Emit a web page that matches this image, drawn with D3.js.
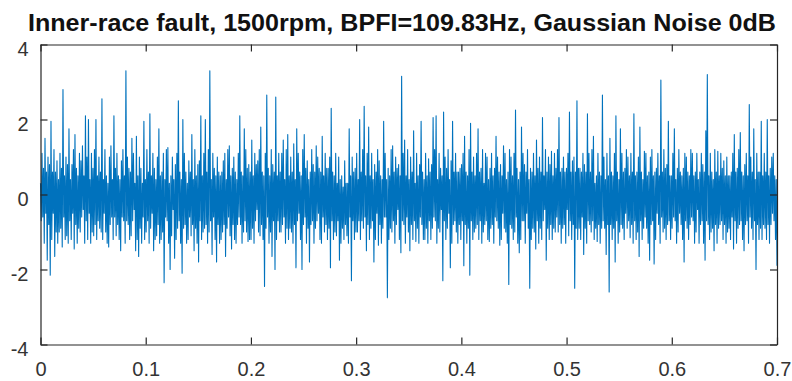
<!DOCTYPE html>
<html>
<head>
<meta charset="utf-8">
<script src="https://cdn.jsdelivr.net/npm/d3@7"></script>
<style>
  html, body { margin: 0; padding: 0; background: #ffffff; }
  svg { display: block; }
</style>
</head>
<body>
<div id="chart"></div>
<script>
// ---- Data ----
const titleText = "Inner-race fault, 1500rpm, BPFI=109.83Hz, Gaussian Noise 0dB";
const xTickValues = [0, 0.1, 0.2, 0.3, 0.4, 0.5, 0.6, 0.7];
const xTickLabels = ["0", "0.1", "0.2", "0.3", "0.4", "0.5", "0.6", "0.7"];
const yTickValues = [-4, -2, 0, 2, 4];
const yTickLabels = ["-4", "-2", "0", "2", "4"];
const timeStart = 0;
const timeEnd = 0.7;
// signal amplitude samples, evenly spaced from timeStart to timeEnd
const signal = [
  0.3,-0.7,1.1,-0.6,0.7,-1.3,1.5,-0.5,0.6,-1.75,1.0,-0.8,0.8,-2.15,1.95,-1.2,0.6,-0.5,1.2,-1.65,0.6,-1.0,0.9,-1.3,0.4,-1.0,1.1,-0.9,0.7,-1.4,2.8,-0.6,0.5,-1.2,1.0,-1.1,0.8,-1.3,1.75,-0.7,
  0.4,-1.2,0.8,-0.5,1.2,-1.45,1.6,-0.8,0.7,-1.3,0.5,-0.9,1.1,-1.0,0.9,-0.6,1.3,-0.4,0.5,-1.3,2.1,-0.7,1.0,-1.2,2.0,-0.5,0.4,-1.3,1.1,-1.0,0.7,-1.1,1.2,-0.8,2.0,-1.2,0.5,-0.7,1.0,-0.9,
  0.6,-1.0,2.55,-1.2,0.4,-0.5,1.2,-1.0,0.5,-1.3,0.3,-1.4,1.0,-0.8,1.3,-0.6,0.4,-1.2,2.1,-0.6,0.7,-1.1,1.1,-0.8,0.5,-1.2,0.4,-1.5,0.9,-0.6,1.2,-0.7,0.5,-1.3,3.3,-0.7,1.0,-0.8,0.7,-1.2,
  0.6,-1.1,1.5,-0.7,1.1,-0.4,0.3,-1.5,1.55,-1.2,0.5,-1.65,1.0,-0.9,0.7,-1.3,0.3,-0.6,1.95,-1.2,0.4,-1.0,1.2,-0.7,0.6,-1.3,2.15,-0.9,0.5,-0.5,1.1,-1.5,0.7,-1.2,0.4,-1.1,1.0,-0.8,1.75,-1.3,
  0.5,-1.2,0.6,-1.0,1.1,-2.35,0.4,-0.6,1.2,-0.7,1.25,-1.3,0.3,-2.0,0.5,-1.1,1.0,-0.4,0.4,-1.7,0.8,-1.2,1.1,-0.9,2.5,-0.7,0.6,-1.3,0.4,-2.1,2.0,-0.9,1.1,-0.8,0.6,-1.3,0.3,-1.2,0.9,-0.6,
  0.6,-1.1,1.6,-0.8,0.4,-1.5,1.2,-0.9,0.5,-1.3,0.8,-1.8,0.9,-0.7,2.1,-1.2,0.5,-1.0,1.1,-0.9,2.0,-0.8,0.6,-1.3,1.2,-1.0,3.3,-0.7,0.4,-1.6,1.1,-0.6,0.7,-1.2,0.5,-1.8,1.0,-0.8,0.6,-1.3,
  0.5,-1.2,0.6,-1.0,0.9,-0.8,1.1,-1.65,0.4,-0.9,1.2,-0.6,1.3,-1.1,0.5,-1.45,0.7,-0.8,1.0,-1.2,0.6,-1.3,0.4,-0.8,1.1,-0.6,2.1,-0.8,0.6,-1.3,0.5,-1.0,1.75,-0.7,1.2,-1.0,0.7,-1.25,0.8,-1.2,
  0.6,-1.2,1.45,-0.9,0.5,-1.3,1.1,-0.7,0.8,-0.4,0.9,-1.0,1.2,-1.1,1.8,-0.8,0.6,-1.2,0.5,-2.45,1.1,-0.9,2.65,-0.6,0.7,-1.3,0.5,-1.0,1.2,-1.65,0.8,-0.7,0.6,-2.0,2.6,-1.2,0.5,-0.7,1.1,-1.0,
  0.6,-1.0,1.1,-0.8,1.45,-0.6,0.4,-1.3,1.2,-0.9,1.6,-1.2,0.5,-0.9,1.0,-1.0,0.6,-1.3,1.35,-0.8,0.4,-1.95,1.75,-0.7,1.1,-0.5,0.6,-1.2,0.5,-2.0,1.2,-0.8,1.6,-0.6,0.7,-1.3,0.9,-0.9,0.4,-1.8,
  0.6,-0.8,1.2,-0.7,0.8,-1.3,0.6,-0.9,1.3,-0.7,1.0,-0.5,0.7,-1.2,0.6,-1.3,1.55,-0.6,0.5,-1.0,1.1,-0.8,0.7,-1.2,0.7,-0.9,1.0,-1.95,2.3,-0.7,0.6,-1.2,0.5,-1.0,1.1,-1.1,0.3,-0.7,1.0,-1.75,
  0.4,-1.3,0.5,-0.9,0.2,-1.2,0.9,-0.8,0.3,-1.1,0.3,-1.3,1.75,-0.6,0.5,-2.3,1.0,-0.7,0.6,-1.2,0.7,-1.0,1.1,-1.0,0.4,-0.7,2.0,-1.2,0.6,-0.7,1.2,-0.9,2.35,-0.6,0.5,-1.5,1.1,-0.8,1.8,-1.2,
  0.5,-0.9,1.1,-0.7,0.4,-1.8,0.8,-1.2,0.6,-0.5,1.2,-1.35,0.9,-0.8,0.5,-1.3,0.4,-0.9,1.95,-0.6,1.1,-0.6,0.4,-2.75,0.7,-1.2,0.5,-0.9,1.2,-1.0,1.3,-0.7,0.6,-1.3,1.0,-0.8,0.7,-0.4,0.8,-1.2,
  0.5,-1.55,3.15,-0.7,1.1,-0.8,1.45,-1.3,0.5,-0.6,1.2,-1.0,0.4,-1.5,1.0,-0.8,0.6,-1.2,1.7,-0.7,0.3,-1.25,1.1,-0.9,0.5,-1.3,0.8,-0.6,1.95,-0.8,0.6,-1.2,0.4,-1.2,1.1,-0.9,0.5,-1.3,0.95,-0.7,
  0.6,-1.2,0.8,-0.9,2.05,-0.6,1.2,-0.7,2.1,-1.3,0.4,-0.9,1.1,-1.0,0.7,-0.4,0.5,-2.3,2.2,-0.7,1.0,-1.2,0.7,-0.9,1.2,-0.5,0.4,-1.95,0.9,-1.3,1.95,-0.8,0.6,-0.7,1.1,-1.0,0.6,-1.3,0.6,-0.8,
  0.7,-1.2,0.8,-0.7,1.1,-1.9,1.55,-0.8,0.6,-1.3,0.5,-0.9,1.2,-2.15,1.9,-0.7,0.6,-1.2,1.0,-1.0,0.5,-0.9,1.1,-0.8,1.75,-1.2,0.6,-0.7,0.7,-1.3,1.2,-1.0,0.3,-0.8,1.1,-0.7,1.0,-1.2,0.4,-1.25,
  0.7,-0.9,1.1,-0.8,0.5,-1.3,0.7,-0.6,1.55,-0.7,1.0,-0.9,0.6,-1.35,0.8,-1.2,0.5,-0.5,1.3,-0.9,1.1,-1.0,0.4,-1.3,0.6,-2.4,1.2,-0.8,1.0,-0.9,0.5,-1.2,1.1,-1.0,2.25,-0.6,0.7,-1.3,0.4,-1.55,
  0.6,-1.2,1.8,-0.7,1.1,-0.7,0.8,-1.3,0.6,-0.5,1.2,-0.9,0.4,-2.5,0.7,-1.2,0.6,-0.9,1.1,-1.0,0.5,-1.45,1.45,-0.7,0.7,-1.3,1.0,-0.9,0.6,-1.2,2.05,-0.7,0.5,-0.4,1.2,-1.75,0.6,-0.9,1.0,-1.2,
  0.8,-0.8,1.15,-1.2,0.5,-0.9,1.1,-1.0,0.7,-0.6,1.2,-1.0,2.05,-0.8,0.6,-1.3,0.7,-0.9,1.0,-0.8,0.6,-1.3,0.7,-0.4,1.1,-1.1,2.2,-0.7,0.6,-1.2,0.9,-0.8,1.0,-2.5,0.6,-0.9,2.5,-1.2,0.7,-0.9,
  0.7,-1.2,0.6,-0.6,1.1,-1.6,0.8,-0.9,0.6,-1.3,2.15,-0.7,1.1,-0.8,0.6,-1.0,1.2,-0.7,1.55,-1.2,0.3,-0.9,0.5,-1.25,1.1,-0.8,0.6,-1.3,0.5,-0.9,2.65,-0.7,1.0,-0.9,0.4,-1.6,1.1,-0.8,0.5,-2.6,
  1.5,-0.8,0.6,-1.2,0.5,-0.9,1.1,-1.8,2.1,-0.7,0.6,-1.3,0.4,-1.0,1.75,-0.8,1.1,-0.9,0.6,-1.2,0.7,-0.5,1.2,-0.9,1.0,-0.7,0.5,-1.15,1.1,-0.8,0.6,-1.3,2.15,-0.7,0.5,-1.2,0.6,-1.0,1.0,-1.65,
  1.8,-0.7,0.6,-1.2,0.4,-0.9,1.15,-0.6,1.1,-0.9,0.5,-1.3,0.6,-1.75,1.0,-0.8,1.2,-0.7,0.5,-1.85,0.6,-1.2,0.7,-0.5,1.1,-0.8,0.5,-1.3,3.05,-0.6,0.6,-1.0,1.2,-0.9,0.7,-1.2,0.8,-0.8,1.95,-0.7,
  0.5,-1.2,0.5,-0.9,1.1,-0.6,1.75,-0.7,0.4,-1.3,0.7,-1.0,1.2,-0.5,0.6,-0.8,0.5,-1.2,0.7,-1.8,1.1,-0.7,1.0,-0.9,0.6,-1.2,0.5,-0.8,1.2,-0.6,1.1,-0.7,0.5,-1.3,0.6,-1.0,1.1,-0.4,0.4,-1.3,
  0.6,-0.8,1.1,-0.7,0.8,-1.3,0.6,-1.75,1.7,-0.7,3.2,-0.8,0.5,-1.2,1.1,-1.0,0.6,-0.9,0.4,-1.5,1.2,-0.8,0.6,-1.3,1.15,-0.9,0.5,-0.8,1.1,-0.7,0.7,-1.2,0.9,-0.8,0.5,-1.3,1.0,-1.0,0.5,-0.9,
  0.5,-1.2,0.6,-0.6,1.1,-1.45,1.6,-0.7,0.6,-1.3,0.7,-0.9,1.2,-0.8,1.65,-0.7,0.6,-1.2,0.5,-1.5,0.8,-0.8,1.1,-0.7,0.5,-1.3,2.4,-0.6,1.0,-0.9,0.6,-1.2,1.75,-0.7,0.4,-2.0,1.1,-0.8,0.6,-1.2,
  0.6,-0.9,1.95,-1.2,0.5,-0.8,1.1,-0.9,0.6,-1.2,2.0,-0.8,0.5,-1.3,0.7,-0.8,1.0,-0.5,1.1,-0.7,0.5,-1.2,0.4,-1.9
];

// ---- Layout ----
const W = 792, H = 381;
const plotLeft = 40.5, plotRight = 777, plotTop = 44.5, plotBottom = 344.5;
const axisColor = "#262626";
const lineColor = "#0072BD";

const svg = d3.select("#chart").append("svg")
  .attr("width", W).attr("height", H);

const x = d3.scaleLinear().domain([timeStart, timeEnd]).range([plotLeft, plotRight]);
const y = d3.scaleLinear().domain([-4, 4]).range([plotBottom, plotTop]);

const dt = (timeEnd - timeStart) / (signal.length - 1);
const points = signal.map((v, i) => [timeStart + i * dt, v]);

// signal line
svg.append("path")
  .datum(points)
  .attr("fill", "none")
  .attr("stroke", lineColor)
  .attr("stroke-width", 1.1)
  .attr("stroke-linejoin", "round")
  .attr("d", d3.line().x(d => x(d[0])).y(d => y(d[1])));

// axes
const tickFont = "'Liberation Sans Narrow', 'Liberation Sans', Arial, sans-serif";

const gBottom = svg.append("g")
  .attr("transform", `translate(0,${plotBottom})`)
  .call(d3.axisBottom(x).tickValues(xTickValues)
    .tickFormat((d, i) => xTickLabels[i])
    .tickSizeInner(-7).tickSizeOuter(0).tickPadding(17));

const gTop = svg.append("g")
  .attr("transform", `translate(0,${plotTop})`)
  .call(d3.axisTop(x).tickValues(xTickValues).tickFormat("")
    .tickSizeInner(-7).tickSizeOuter(0));

const gLeft = svg.append("g")
  .attr("transform", `translate(${plotLeft},0)`)
  .call(d3.axisLeft(y).tickValues(yTickValues)
    .tickFormat((d, i) => yTickLabels[i])
    .tickSizeInner(-7).tickSizeOuter(0).tickPadding(12));

const gRight = svg.append("g")
  .attr("transform", `translate(${plotRight},0)`)
  .call(d3.axisRight(y).tickValues(yTickValues).tickFormat("")
    .tickSizeInner(-7).tickSizeOuter(0));

[gBottom, gTop, gLeft, gRight].forEach(g => {
  g.select(".domain").attr("stroke", axisColor).attr("stroke-width", 1.2);
  g.selectAll(".tick line").attr("stroke", axisColor).attr("stroke-width", 1.2);
  g.selectAll(".tick text")
    .attr("fill", "#333333")
    .style("font-family", tickFont)
    .style("font-size", "20px");
});
gLeft.selectAll(".tick text").attr("dy", "0.55em");

// title
svg.append("text")
  .attr("x", 402)
  .attr("y", 31)
  .attr("text-anchor", "middle")
  .attr("textLength", 748)
  .attr("lengthAdjust", "spacingAndGlyphs")
  .style("font-family", "'Liberation Sans', Arial, sans-serif")
  .style("font-weight", "bold")
  .style("font-size", "23px")
  .attr("fill", "#111111")
  .text(titleText);
</script>
</body>
</html>
